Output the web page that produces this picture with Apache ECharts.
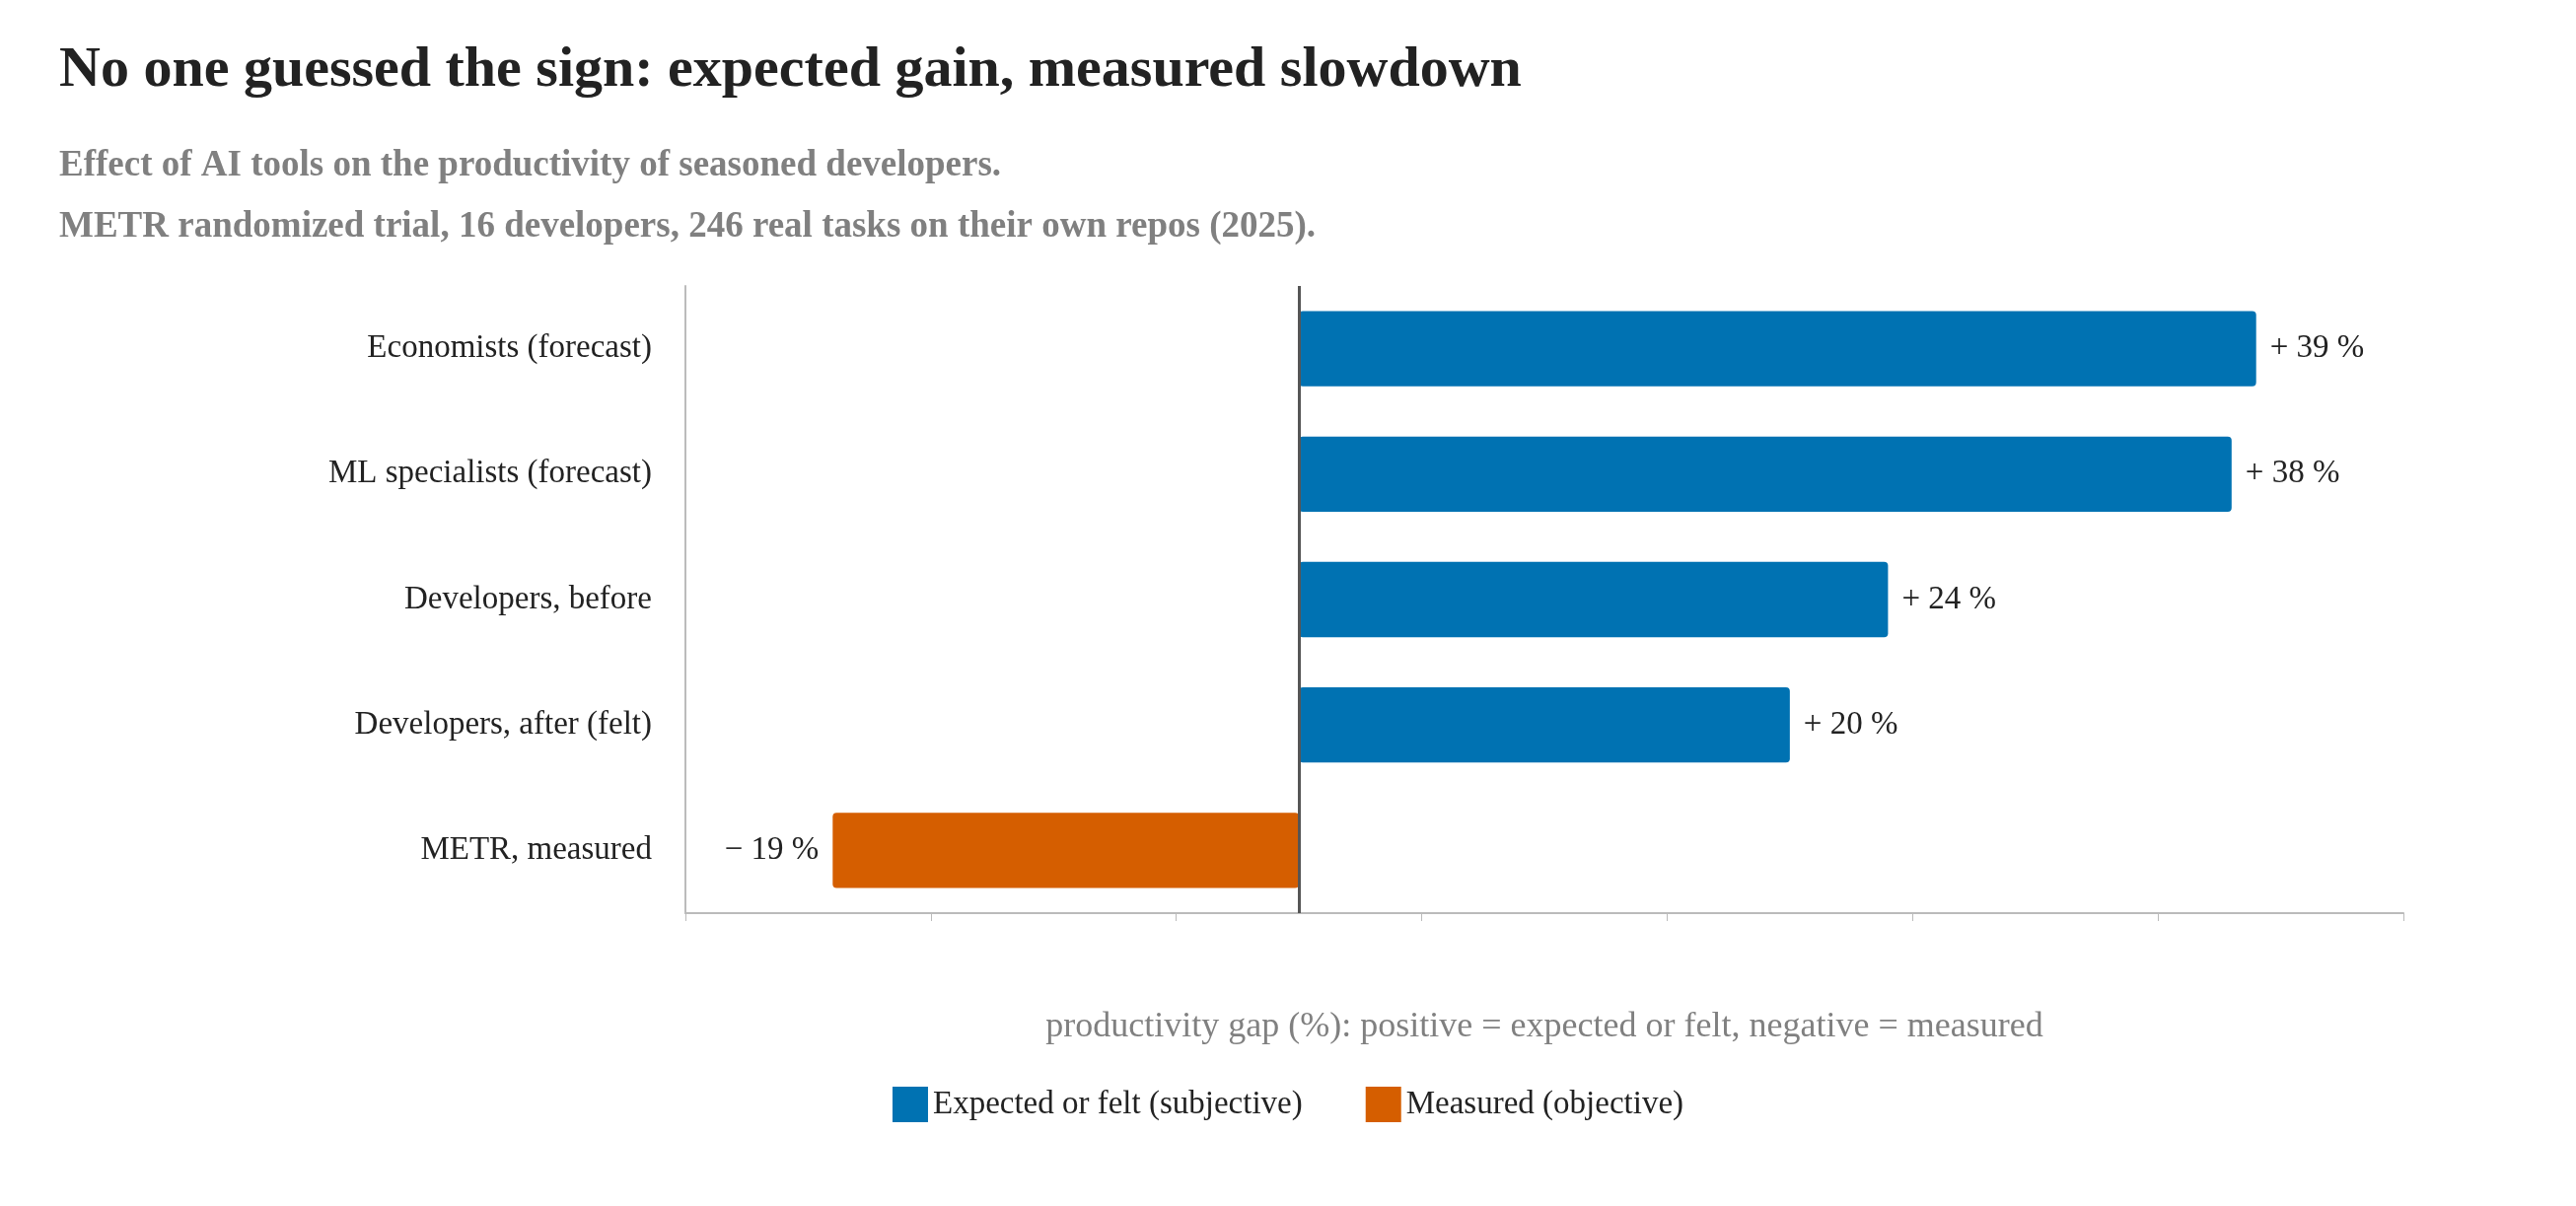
<!DOCTYPE html>
<html><head><meta charset="utf-8">
<script src="https://cdn.jsdelivr.net/npm/echarts@6/dist/echarts.min.js"></script>
<style>html,body{margin:0;padding:0;background:#fff}#c{width:2612px;height:1223px}</style>
</head><body><div id="c"></div>
<script>
const categories = ["Economists (forecast)","ML specialists (forecast)","Developers, before","Developers, after (felt)","METR, measured"];
const values = [39, 38, 24, 20, -19];
const kinds = ["subjective","subjective","subjective","subjective","objective"];
const xTicks = [-20,-10,0,10,20,30,40];
const BLUE="#0072B2", ORANGE="#D55E00", F="Liberation Serif, DejaVu Serif, serif";
const cats = categories.slice().reverse(), vals = values.slice().reverse(), kd = kinds.slice().reverse();
function mk(kind){return vals.map((v,i)=>kd[i]===kind?v:null);}
const lab = {show:true,fontFamily:F,fontSize:33,color:"#222",distance:14,
  formatter:p=>(p.value>=0?"+ ":"− ")+Math.abs(p.value)+" %"};
const chart = echarts.init(document.getElementById('c'));
chart.setOption({
  animation:false,
  title:[{text:"No one guessed the sign: expected gain, measured slowdown",left:55,top:38,
    textStyle:{fontFamily:F,fontWeight:"bold",fontSize:58,color:"#222"}},
    {text:"Effect of AI tools on the productivity of seasoned developers.\nMETR randomized trial, 16 developers, 246 real tasks on their own repos (2025).",
    left:55,top:132,textStyle:{fontFamily:F,fontSize:37,color:"#808080",lineHeight:62}}],
  legend:{bottom:80,left:"center",itemWidth:36,itemHeight:36,itemGap:64,icon:"rect",
    textStyle:{fontFamily:F,fontSize:33,color:"#222"},
    data:["Expected or felt (subjective)","Measured (objective)"]},
  grid:{left:695,right:175,top:290,bottom:297},
  xAxis:{type:"value",min:-25,max:45,interval:10,
    axisLabel:{fontFamily:F,fontSize:32,color:"#222",margin:26,
      formatter:v=>xTicks.includes(v)?(v<0?"−"+(-v):""+v):""},
    axisTick:{show:true,length:8,lineStyle:{color:"#bbb"}},
    axisLine:{show:true,lineStyle:{color:"#bbb",width:2}},splitLine:{show:false},
    name:"productivity gap (%): positive = expected or felt, negative = measured",
    nameLocation:"middle",nameGap:98,nameTextStyle:{fontFamily:F,fontSize:36,color:"#808080"}},
  yAxis:{type:"category",data:cats,
    axisLine:{show:true,onZero:false,lineStyle:{color:"#bbb",width:2}},axisTick:{show:false},
    axisLabel:{fontFamily:F,fontSize:33,color:"#222",margin:34}},
  series:[
    {name:"Expected or felt (subjective)",type:"bar",stack:"a",data:mk("subjective"),barWidth:"60%",
      itemStyle:{color:BLUE,borderRadius:4},label:Object.assign({position:"right"},lab),
      markLine:{silent:true,symbol:"none",label:{show:false},lineStyle:{color:"#555",width:3,type:"solid"},data:[{xAxis:0}]}},
    {name:"Measured (objective)",type:"bar",stack:"a",data:mk("objective"),barWidth:"60%",
      itemStyle:{color:ORANGE,borderRadius:4},label:Object.assign({position:"left"},lab)}
  ]
});
</script></body></html>
